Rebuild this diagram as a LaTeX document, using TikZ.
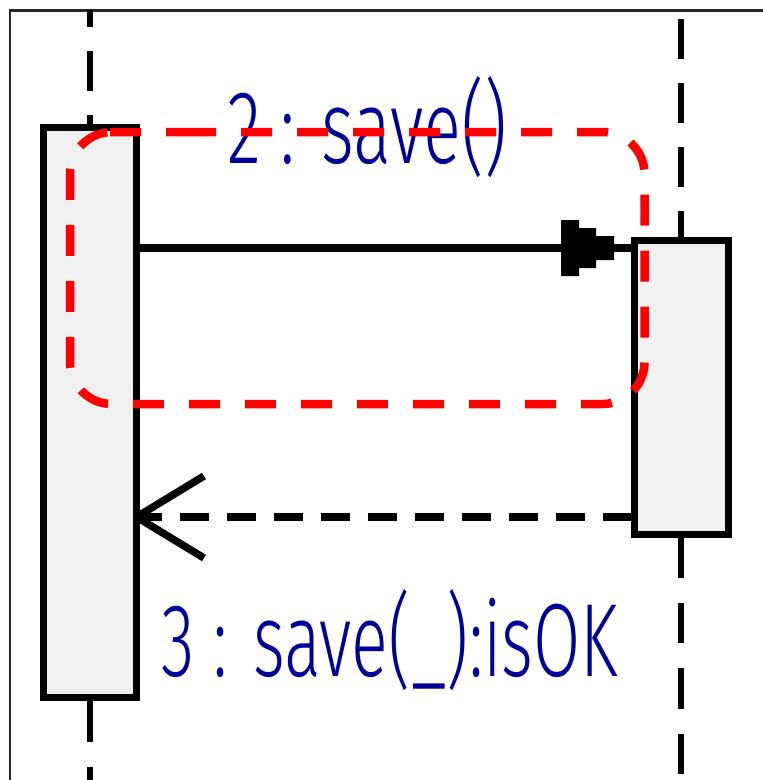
\documentclass[tikz,border=0pt]{standalone}
\usepackage{fontspec}
\setmainfont{Liberation Sans}
\newfontfamily\lblfont{Fira Sans Light}
\usetikzlibrary{calc}
\definecolor{msgblue}{RGB}{0,0,153}
\definecolor{boxfill}{RGB}{240,240,240}
\definecolor{hlred}{RGB}{255,0,0}
\begin{document}
\begin{tikzpicture}[x=1pt,y=-1pt,
  lifeline/.style={line width=6pt,black},
  actbox/.style={draw=black,line width=7pt,fill=boxfill,rectangle,inner sep=0pt,outer sep=0pt,minimum width=93.5pt},
  msgline/.style={line width=8pt,black},
  retline/.style={line width=8pt,black,dash pattern=on 29pt off 18pt,dash phase=44.5pt},
  barb/.style={line width=7.5pt,black,line join=round},
  msglabel/.style={text=msgblue,inner sep=0pt,anchor=base west,font=\lblfont\fontsize{104}{114}\selectfont},
  hilite/.style={draw=hlred,line width=8.5pt,dash pattern=on 31pt off 25pt,rounded corners=42pt}]
\useasboundingbox (0,0) rectangle (763,780);
\clip (0,0) rectangle (763,780);
\fill[white] (0,0) rectangle (763,780);
% frame
\draw[black!85,line width=2.5pt] (10,800) -- (10,10.5) -- (800,10.5);
% activation boxes
\node[actbox,minimum height=570pt] (lbox) at (89.75,412) {};
\node[actbox,minimum height=294pt] (rbox) at (681.25,387) {};
% lifelines
\coordinate (topref) at (0,10);
\coordinate (botref) at (0,800);
\draw[lifeline,dash pattern=on 40pt off 24pt,dash phase=23pt] (lbox.north |- topref) -- (lbox.north);
\draw[lifeline,dash pattern=on 40pt off 24pt,dash phase=55pt] (rbox.north |- topref) -- (rbox.north);
\draw[lifeline,dash pattern=on 40.5pt off 25pt] ([yshift=-4pt]lbox.south) -- (lbox.south |- botref);
\draw[lifeline,dash pattern=on 40.5pt off 25pt] ([yshift=-3pt]rbox.south) -- (rbox.south |- botref);
% call message
\coordinate (callend) at ($(rbox.north west)+(0,8)$);
\draw[msgline] (lbox.east |- callend) -- (callend);
\fill[black] ($(callend)+(-73.5,-28)$) -- ++(18,0) -- ++(0,8) -- ++(17,0) -- ++(0,8) -- ++(18,0)
  -- ++(0,24) -- ++(-18,0) -- ++(0,8) -- ++(-17,0) -- ++(0,8) -- ++(-18,0) -- cycle;
% return message
\coordinate (retstart) at ($(rbox.south west)+(0,-17)$);
\coordinate (rettip) at (lbox.east |- retstart);
\draw[retline] (retstart) -- (rettip);
\draw[barb] ($(rettip)+(67.5,-41)$) -- (rettip) -- ($(rettip)+(67.5,41)$);
% labels
\node[msglabel] (lab2) at (227,163) {\resizebox{280pt}{\height}{2 : save()}};
\node[msglabel] (lab3) at (161,676) {\resizebox{457pt}{\height}{3 : save(\_):isOK}};
% highlight
\draw[hilite] (143,132) -- (644.5,132) -- (644.5,404) -- (70,404) -- (70,132) -- cycle;
\end{tikzpicture}
\end{document}
